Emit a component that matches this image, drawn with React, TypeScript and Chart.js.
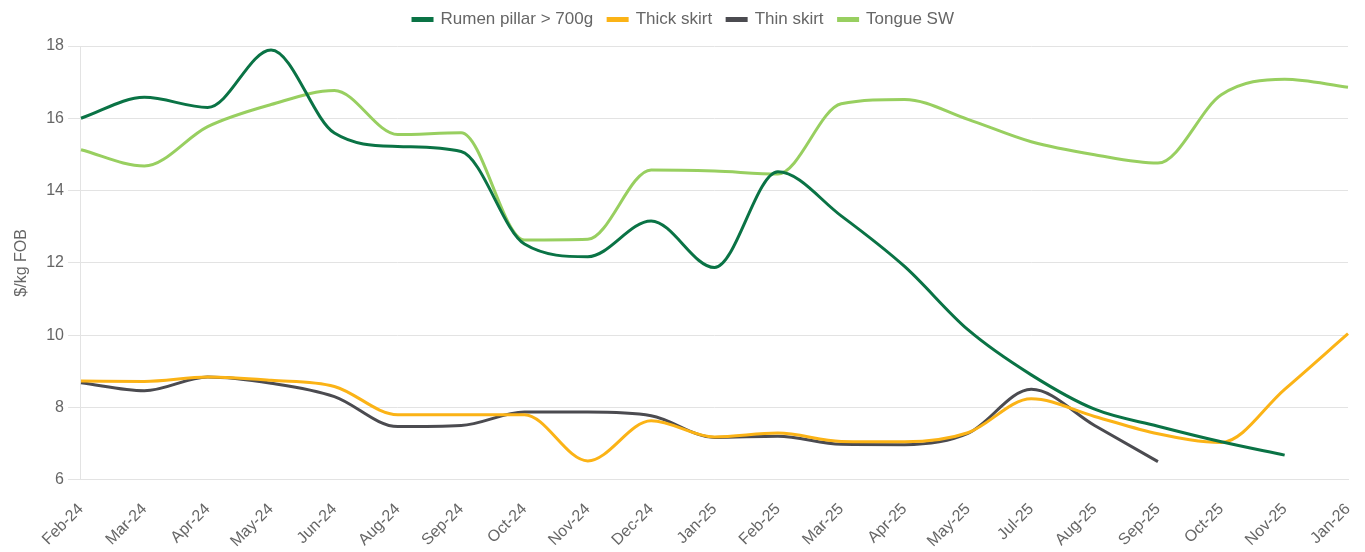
import React, { useEffect, useRef } from "react";
import { Chart, registerables } from "chart.js";

Chart.register(...registerables);

const months = [
  "Feb-24", "Mar-24", "Apr-24", "May-24", "Jun-24", "Aug-24", "Sep-24", "Oct-24", "Nov-24", "Dec-24",
  "Jan-25", "Feb-25", "Mar-25", "Apr-25", "May-25", "Jul-25", "Aug-25", "Sep-25", "Oct-25", "Nov-25", "Jan-26",
];

const rumenPillar = [
  16.0, 16.58, 16.3, 17.89, 15.59, 15.22, 15.08, 12.52, 12.17, 13.16,
  11.87, 14.52, 13.3, 11.9, 10.15, 8.9, 7.95, 7.48, 7.05, 6.68, null,
];

const thickSkirt = [
  8.73, 8.72, 8.84, 8.75, 8.58, 7.8, 7.8, 7.8, 6.52, 7.63,
  7.18, 7.29, 7.06, 7.05, 7.3, 8.24, 7.75, 7.27, 7.03, 8.5, 10.04,
];

const thinSkirt = [
  8.68, 8.46, 8.84, 8.67, 8.3, 7.47, 7.5, 7.87, 7.87, 7.77,
  7.17, 7.2, 6.98, 6.97, 7.28, 8.5, 7.5, 6.5, null, null, null,
];

const tongueSW = [
  15.13, 14.68, 15.77, 16.38, 16.77, 15.55, 15.6, 12.63, 12.65, 14.57,
  14.54, 14.46, 16.4, 16.52, 15.97, 15.35, 14.99, 14.76, 16.65, 17.08, 16.86,
];

const seriesNames = ["Rumen pillar > 700g", "Thick skirt", "Thin skirt", "Tongue SW"];
const seriesColors = ["#0a7345", "#fbb316", "#4b4b50", "#98cf60"];

const LEGEND_HEIGHT = 46;
const LEGEND_SHIFT_Y = -4;
const LEGEND_SHIFT_X = -3;
const X_PAD_RIGHT = 17;

const legendTweak = {
  id: "legendTweak",
  beforeLayout(chart: any) {
    const lg = chart.legend;
    if (lg && !lg.__patched) {
      const orig = lg.fit.bind(lg);
      lg.fit = function () {
        orig();
        this.height = LEGEND_HEIGHT;
      };
      lg.__patched = true;
    }
  },
  afterLayout(chart: any) {
    const lg = chart.legend;
    if (lg) {
      lg.top += LEGEND_SHIFT_Y;
      lg.bottom += LEGEND_SHIFT_Y;
      lg.left += LEGEND_SHIFT_X;
      lg.right += LEGEND_SHIFT_X;
    }
  },
};

export default function App() {
  const ref = useRef<HTMLCanvasElement | null>(null);

  useEffect(() => {
    if (!ref.current) return;
    const values = [rumenPillar, thickSkirt, thinSkirt, tongueSW];
    const family = "'Liberation Sans', Arial, sans-serif";
    const font = { family, size: 16 };
    const chart = new Chart(ref.current, {
      type: "line",
      data: {
        labels: months,
        datasets: values.map((v, i) => ({
          label: seriesNames[i],
          data: v,
          borderColor: seriesColors[i],
          backgroundColor: seriesColors[i],
          borderWidth: 3,
          pointRadius: 0,
          pointHoverRadius: 0,
          fill: false,
          cubicInterpolationMode: "monotone" as const,
        })),
      },
      plugins: [legendTweak],
      options: {
        animation: false,
        responsive: true,
        maintainAspectRatio: false,
        layout: { padding: { left: 8, right: 0, top: 0, bottom: -11 } },
        plugins: {
          legend: {
            position: "top",
            labels: {
              color: "#666",
              font: { family, size: 17 },
              boxWidth: 19,
              boxHeight: 2,
              padding: 15,
            },
          },
          tooltip: { enabled: false },
        },
        scales: {
          x: {
            grid: { display: false },
            border: { display: true, color: "#e3e3e3" },
            ticks: {
              color: "#666",
              font,
              autoSkip: false,
              maxRotation: 45,
              minRotation: 45,
              padding: 12,
            },
            afterFit: (scale: any) => {
              scale.paddingRight = X_PAD_RIGHT;
            },
          },
          y: {
            min: 6,
            max: 18,
            grid: { color: "#e3e3e3", tickLength: 13 },
            border: { display: true, color: "#e3e3e3" },
            ticks: { color: "#666", font, stepSize: 2, padding: 4 },
            title: {
              display: true,
              text: "$/kg FOB",
              color: "#666",
              font,
              padding: { top: 4, bottom: 11 },
            },
          },
        },
      },
    });
    return () => chart.destroy();
  }, []);

  return (
    <div style={{ position: "fixed", left: 0, top: 0, width: 1365, height: 552 }}>
      <canvas ref={ref} />
    </div>
  );
}
